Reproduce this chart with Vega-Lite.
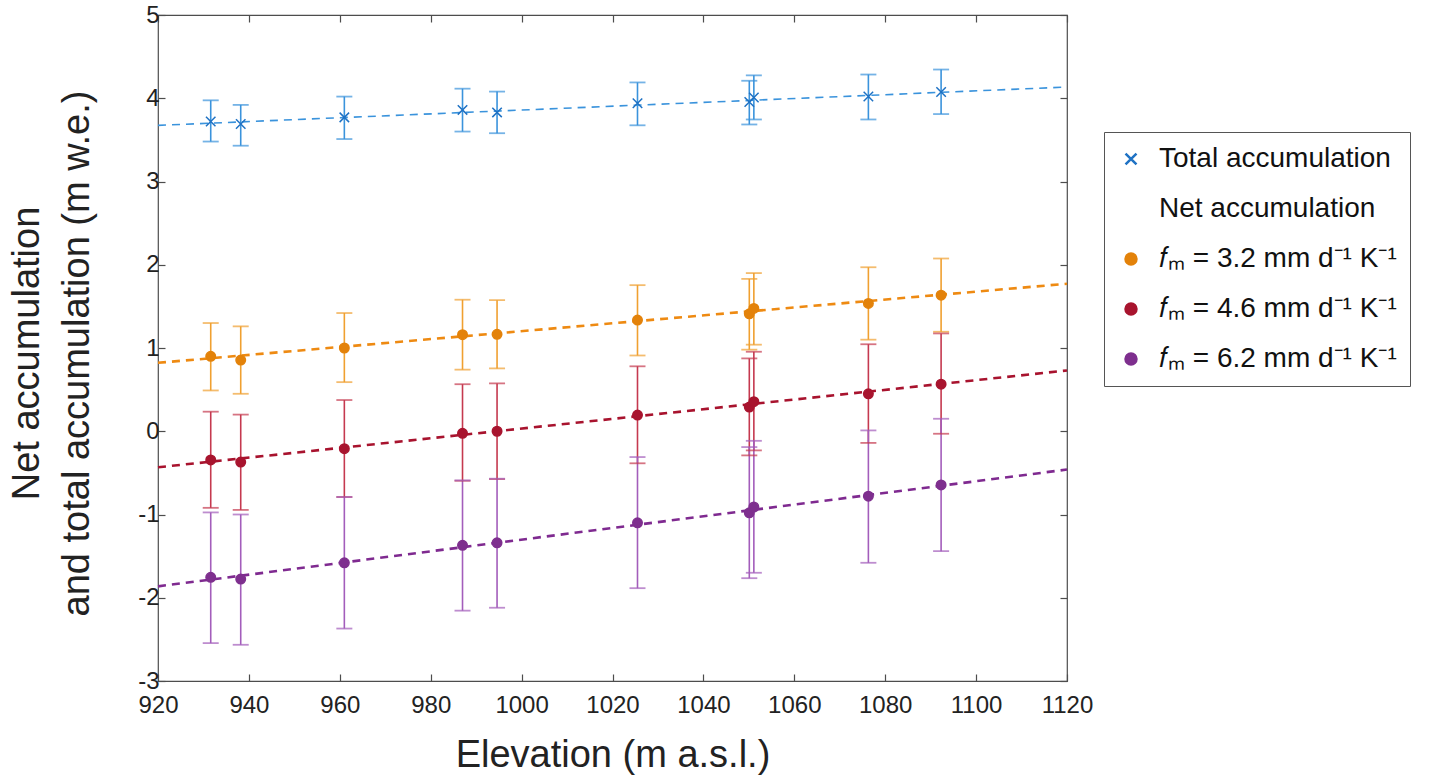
{
  "$schema": "https://vega.github.io/schema/vega-lite/v6.json",
  "width": 909,
  "height": 666,
  "autosize": {"type": "none"},
  "padding": {"left": 158, "top": 15, "right": 362, "bottom": 98},
  "background": "white",
  "config": {
    "view": {"stroke": "#4d4d4d", "strokeWidth": 1.2},
    "font": "Liberation Sans",
    "axis": {
      "grid": false,
      "domain": false,
      "tickColor": "#4d4d4d",
      "tickSize": -7,
      "tickWidth": 1.2,
      "labelFlush": false,
      "labelFont": "Liberation Sans",
      "labelFontSize": 24,
      "labelColor": "#222222",
      "titleFont": "Liberation Sans",
      "titleFontSize": 38,
      "titleFontWeight": "normal",
      "titleColor": "#222222"
    }
  },
  "datasets": {
    "pts": [
      {"s": "Total accumulation", "elev": 931.6, "y": 3.72, "lo": 3.48, "hi": 3.975},
      {"s": "Total accumulation", "elev": 938.2, "y": 3.69, "lo": 3.43, "hi": 3.92},
      {"s": "Total accumulation", "elev": 961.0, "y": 3.77, "lo": 3.51, "hi": 4.02},
      {"s": "Total accumulation", "elev": 987.0, "y": 3.86, "lo": 3.60, "hi": 4.115},
      {"s": "Total accumulation", "elev": 994.6, "y": 3.83, "lo": 3.58, "hi": 4.08},
      {"s": "Total accumulation", "elev": 1025.5, "y": 3.94, "lo": 3.675, "hi": 4.19},
      {"s": "Total accumulation", "elev": 1050.1, "y": 3.955, "lo": 3.685, "hi": 4.21},
      {"s": "Total accumulation", "elev": 1051.1, "y": 4.01, "lo": 3.745, "hi": 4.275},
      {"s": "Total accumulation", "elev": 1076.3, "y": 4.02, "lo": 3.745, "hi": 4.285},
      {"s": "Total accumulation", "elev": 1092.3, "y": 4.075, "lo": 3.81, "hi": 4.345},
      {"s": "3.2", "elev": 931.6, "y": 0.90, "lo": 0.49, "hi": 1.30},
      {"s": "3.2", "elev": 938.2, "y": 0.855, "lo": 0.45, "hi": 1.26},
      {"s": "3.2", "elev": 961.0, "y": 1.00, "lo": 0.59, "hi": 1.42},
      {"s": "3.2", "elev": 987.0, "y": 1.16, "lo": 0.74, "hi": 1.58},
      {"s": "3.2", "elev": 994.6, "y": 1.165, "lo": 0.755, "hi": 1.575},
      {"s": "3.2", "elev": 1025.5, "y": 1.335, "lo": 0.91, "hi": 1.755},
      {"s": "3.2", "elev": 1050.1, "y": 1.41, "lo": 0.98, "hi": 1.83},
      {"s": "3.2", "elev": 1051.1, "y": 1.475, "lo": 1.04, "hi": 1.90},
      {"s": "3.2", "elev": 1076.3, "y": 1.535, "lo": 1.10, "hi": 1.97},
      {"s": "3.2", "elev": 1092.3, "y": 1.635, "lo": 1.195, "hi": 2.075},
      {"s": "4.6", "elev": 931.6, "y": -0.345, "lo": -0.92, "hi": 0.235},
      {"s": "4.6", "elev": 938.2, "y": -0.37, "lo": -0.945, "hi": 0.20},
      {"s": "4.6", "elev": 961.0, "y": -0.21, "lo": -0.79, "hi": 0.375},
      {"s": "4.6", "elev": 987.0, "y": -0.025, "lo": -0.595, "hi": 0.565},
      {"s": "4.6", "elev": 994.6, "y": 0.0, "lo": -0.575, "hi": 0.575},
      {"s": "4.6", "elev": 1025.5, "y": 0.195, "lo": -0.385, "hi": 0.78},
      {"s": "4.6", "elev": 1050.1, "y": 0.29, "lo": -0.29, "hi": 0.875},
      {"s": "4.6", "elev": 1051.1, "y": 0.355, "lo": -0.23, "hi": 0.955},
      {"s": "4.6", "elev": 1076.3, "y": 0.45, "lo": -0.14, "hi": 1.045},
      {"s": "4.6", "elev": 1092.3, "y": 0.565, "lo": -0.03, "hi": 1.175},
      {"s": "6.2", "elev": 931.6, "y": -1.755, "lo": -2.545, "hi": -0.975},
      {"s": "6.2", "elev": 938.2, "y": -1.775, "lo": -2.565, "hi": -1.0},
      {"s": "6.2", "elev": 961.0, "y": -1.58, "lo": -2.37, "hi": -0.79},
      {"s": "6.2", "elev": 987.0, "y": -1.37, "lo": -2.155, "hi": -0.59},
      {"s": "6.2", "elev": 994.6, "y": -1.34, "lo": -2.12, "hi": -0.57},
      {"s": "6.2", "elev": 1025.5, "y": -1.10, "lo": -1.885, "hi": -0.31},
      {"s": "6.2", "elev": 1050.1, "y": -0.98, "lo": -1.765, "hi": -0.19},
      {"s": "6.2", "elev": 1051.1, "y": -0.91, "lo": -1.70, "hi": -0.115},
      {"s": "6.2", "elev": 1076.3, "y": -0.78, "lo": -1.58, "hi": 0.01},
      {"s": "6.2", "elev": 1092.3, "y": -0.645, "lo": -1.44, "hi": 0.15}
    ],
    "trend": [
      {"s": "Total accumulation", "elev": 920, "y": 3.674},
      {"s": "Total accumulation", "elev": 1120, "y": 4.135},
      {"s": "3.2", "elev": 920, "y": 0.822},
      {"s": "3.2", "elev": 1120, "y": 1.772},
      {"s": "4.6", "elev": 920, "y": -0.433},
      {"s": "4.6", "elev": 1120, "y": 0.73},
      {"s": "6.2", "elev": 920, "y": -1.863},
      {"s": "6.2", "elev": 1120, "y": -0.46}
    ]
  },
  "resolve": {
    "scale": {"color": "independent"},
    "axis": {"x": "independent", "y": "independent"}
  },
  "layer": [
    {
      "data": {"name": "pts"},
      "mark": {"type": "rule", "strokeWidth": 1.6},
      "encoding": {
        "x": {"field": "elev", "type": "quantitative", "scale": {"domain": [920, 1120], "nice": false, "zero": false}, "axis": null},
        "y": {"field": "lo", "type": "quantitative", "scale": {"domain": [-3, 5], "nice": false, "zero": false}, "axis": null},
        "y2": {"field": "hi"},
        "color": {"field": "s", "type": "nominal", "legend": null,
          "scale": {"domain": ["Total accumulation", "3.2", "4.6", "6.2"], "range": ["#3A93DC", "#F0A030", "#C5394F", "#A35DBB"]}}
      }
    },
    {
      "data": {"name": "pts"},
      "transform": [{"fold": ["lo", "hi"], "as": ["end", "v"]}],
      "mark": {"type": "tick", "orient": "horizontal", "size": 16, "thickness": 1.8},
      "encoding": {
        "x": {"field": "elev", "type": "quantitative", "axis": null},
        "y": {"field": "v", "type": "quantitative", "axis": null},
        "color": {"field": "s", "type": "nominal", "legend": null,
          "scale": {"domain": ["Total accumulation", "3.2", "4.6", "6.2"], "range": ["#3A93DC", "#F0A030", "#C5394F", "#A35DBB"]}}
      }
    },
    {
      "data": {"name": "trend"},
      "mark": {"type": "line", "strokeDash": [8, 6]},
      "encoding": {
        "x": {"field": "elev", "type": "quantitative",
          "axis": {"orient": "top", "labels": false, "title": null, "values": [920, 940, 960, 980, 1000, 1020, 1040, 1060, 1080, 1100, 1120]}},
        "y": {"field": "y", "type": "quantitative",
          "axis": {"orient": "right", "labels": false, "title": null, "values": [-3, -2, -1, 0, 1, 2, 3, 4, 5]}},
        "color": {"field": "s", "type": "nominal", "legend": null,
          "scale": {"domain": ["Total accumulation", "3.2", "4.6", "6.2"], "range": ["#3A93DC", "#EE8A12", "#A8132E", "#7F2A90"]}},
        "strokeWidth": {"condition": {"test": "datum.s === 'Total accumulation'", "value": 1.6}, "value": 2.6}
      }
    },
    {
      "data": {"name": "pts"},
      "mark": {"type": "point", "filled": true, "size": 90, "strokeWidth": 1.5, "opacity": 1},
      "encoding": {
        "x": {"field": "elev", "type": "quantitative",
          "axis": {"orient": "bottom", "title": "Elevation (m a.s.l.)", "values": [920, 940, 960, 980, 1000, 1020, 1040, 1060, 1080, 1100, 1120],
            "format": "d", "labelPadding": 19, "titleY": 85, "titleBaseline": "alphabetic"}},
        "y": {"field": "y", "type": "quantitative",
          "axis": {"orient": "left", "title": ["Net accumulation", "and total accumulation (m w.e.)"], "values": [-3, -2, -1, 0, 1, 2, 3, 4, 5],
            "labelExpr": "replace(datum.label, '−', '-')",
            "labelPadding": 6, "titleX": -131, "titleY": 338, "titleAngle": -90, "titleAlign": "center", "titleBaseline": "middle", "titleLineHeight": 50}},
        "fill": {"field": "s", "type": "nominal",
          "scale": {"domain": ["Total accumulation", "Net accumulation", "3.2", "4.6", "6.2"], "range": ["#1F72C4", "rgba(0,0,0,0)", "#E3820A", "#A8142E", "#7E2F8E"]},
          "legend": {"title": null, "orient": "none", "legendX": 946, "legendY": 117, "strokeColor": "#555555", "fillColor": "white", "padding": 13,
            "labelFontSize": 28, "labelFont": "Liberation Sans", "labelColor": "#111111", "symbolSize": 120, "symbolStrokeWidth": 2.5,
            "rowPadding": 22, "labelOffset": 14, "labelLimit": 400,
            "labelExpr": "indexof(['3.2','4.6','6.2'], datum.label) >= 0 ? '𝑓ₘ = ' + datum.label + ' mm d⁻¹ K⁻¹' : datum.label"}},
        "stroke": {"field": "s", "type": "nominal",
          "scale": {"domain": ["Total accumulation", "Net accumulation", "3.2", "4.6", "6.2"], "range": ["#1F72C4", "rgba(0,0,0,0)", "#E3820A", "#A8142E", "#7E2F8E"]},
          "legend": {"title": null, "orient": "none", "legendX": 946, "legendY": 117, "strokeColor": "#555555", "fillColor": "white", "padding": 13,
            "labelFontSize": 28, "labelFont": "Liberation Sans", "labelColor": "#111111", "symbolSize": 120, "symbolStrokeWidth": 2.5,
            "rowPadding": 22, "labelOffset": 14, "labelLimit": 400,
            "labelExpr": "indexof(['3.2','4.6','6.2'], datum.label) >= 0 ? '𝑓ₘ = ' + datum.label + ' mm d⁻¹ K⁻¹' : datum.label"}},
        "shape": {"field": "s", "type": "nominal",
          "scale": {"domain": ["Total accumulation", "Net accumulation", "3.2", "4.6", "6.2"], "range": ["M-1,-1L1,1M1,-1L-1,1", "circle", "circle", "circle", "circle"]},
          "legend": {"title": null, "orient": "none", "legendX": 946, "legendY": 117, "strokeColor": "#555555", "fillColor": "white", "padding": 13,
            "labelFontSize": 28, "labelFont": "Liberation Sans", "labelColor": "#111111", "symbolSize": 120, "symbolStrokeWidth": 2.5,
            "rowPadding": 22, "labelOffset": 14, "labelLimit": 400,
            "labelExpr": "indexof(['3.2','4.6','6.2'], datum.label) >= 0 ? '𝑓ₘ = ' + datum.label + ' mm d⁻¹ K⁻¹' : datum.label"}}
      }
    }
  ]
}
